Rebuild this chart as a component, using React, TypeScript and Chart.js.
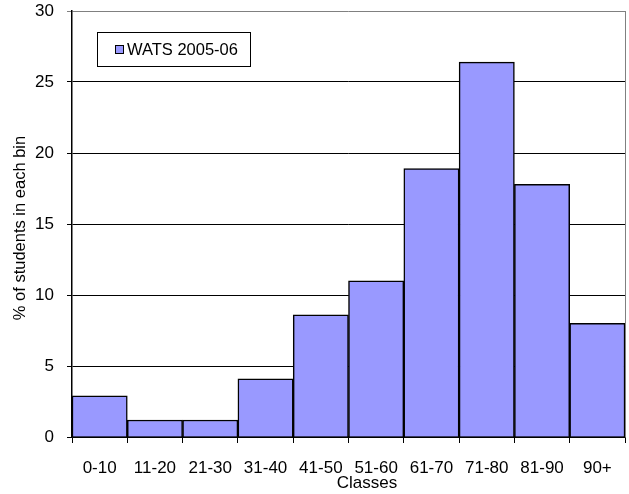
import React, { useEffect, useRef } from "react";
import { Chart, registerables } from "chart.js";

Chart.register(...registerables);

const categories = ["0-10", "11-20", "21-30", "31-40", "41-50", "51-60", "61-70", "71-80", "81-90", "90+"];
const values = [2.9, 1.2, 1.2, 4.1, 8.6, 11.0, 18.9, 26.4, 17.8, 8.0];
const seriesLabel = "WATS 2005-06";
const xTitle = "Classes";
const yTitle = "% of students in each bin";

const FONT = "'Liberation Sans', Arial, sans-serif";

const decorPlugin = {
  id: "decor",
  afterDraw(chart: any) {
    const { ctx, chartArea } = chart;
    ctx.save();
    // right border (gray)
    ctx.strokeStyle = "#808080";
    ctx.lineWidth = 1;
    ctx.beginPath();
    ctx.moveTo(chartArea.right + 0.5, chartArea.top);
    ctx.lineTo(chartArea.right + 0.5, chartArea.bottom);
    ctx.stroke();

    // legend box
    const lx = 97, ly = 32, lw = 153, lh = 34;
    ctx.fillStyle = "#fff";
    ctx.fillRect(lx, ly, lw, lh);
    ctx.strokeStyle = "#000";
    ctx.lineWidth = 1;
    ctx.strokeRect(lx + 0.5, ly + 0.5, lw, lh);
    ctx.fillStyle = "#9999FF";
    ctx.fillRect(115, 45, 8, 8);
    ctx.strokeRect(115.5, 45.5, 8, 8);
    ctx.fillStyle = "#000";
    ctx.font = `16.5px ${FONT}`;
    ctx.textBaseline = "middle";
    ctx.textAlign = "left";
    ctx.fillText(chart.data.datasets[0].label, 127, 50);

    // x title
    ctx.font = `17px ${FONT}`;
    ctx.textAlign = "center";
    ctx.fillText(xTitle, 367, 483);

    // y title
    ctx.font = `16.5px ${FONT}`;
    ctx.translate(20, 228);
    ctx.rotate(-Math.PI / 2);
    ctx.fillText(yTitle, 0, 0);
    ctx.restore();
  },
};

export default function App() {
  const ref = useRef<HTMLCanvasElement>(null);
  useEffect(() => {
    const chart = new Chart(ref.current!, {
      type: "bar",
      data: {
        labels: categories,
        datasets: [
          {
            label: seriesLabel,
            data: values,
            backgroundColor: "#9999FF",
            borderColor: "#000",
            borderWidth: 1.5,
            barPercentage: 1,
            categoryPercentage: 1,
          },
        ],
      },
      options: {
        animation: false,
        responsive: false,
        maintainAspectRatio: false,
        layout: { padding: { left: 0, top: 0, right: 4, bottom: 0 } },
        plugins: { legend: { display: false }, tooltip: { enabled: false } },
        scales: {
          x: {
            afterFit(scale: any) {
              scale.height = 57;
              scale.paddingLeft = 0;
              scale.paddingRight = 0;
            },
            grid: {
              drawOnChartArea: false,
              offset: true,
              tickLength: 6,
              color: "#000",
              lineWidth: 1,
            },
            border: { color: "#000", width: 1.5 },
            ticks: {
              color: "#000",
              font: { family: FONT, size: 17 },
              padding: 15,
              maxRotation: 0,
              autoSkip: false,
            },
          },
          y: {
            min: 0,
            max: 30,
            afterFit(scale: any) {
              scale.width = 72;
              scale.paddingTop = 11;
              scale.paddingBottom = 0;
            },
            grid: {
              tickLength: 5,
              color: (c: any) => (c.tick && c.tick.value === 30 ? "#808080" : "#000"),
              lineWidth: 1,
            },
            border: { color: "#000", width: 1.5 },
            ticks: {
              stepSize: 5,
              color: "#000",
              font: { family: FONT, size: 17 },
              padding: 13,
            },
          },
        },
      },
      plugins: [decorPlugin],
    });
    return () => chart.destroy();
  }, []);
  return (
    <div style={{ position: "fixed", left: 0, top: 0, width: 629, height: 494, background: "#fff" }}>
      <canvas ref={ref} width={629} height={494} style={{ width: 629, height: 494 }} />
    </div>
  );
}
